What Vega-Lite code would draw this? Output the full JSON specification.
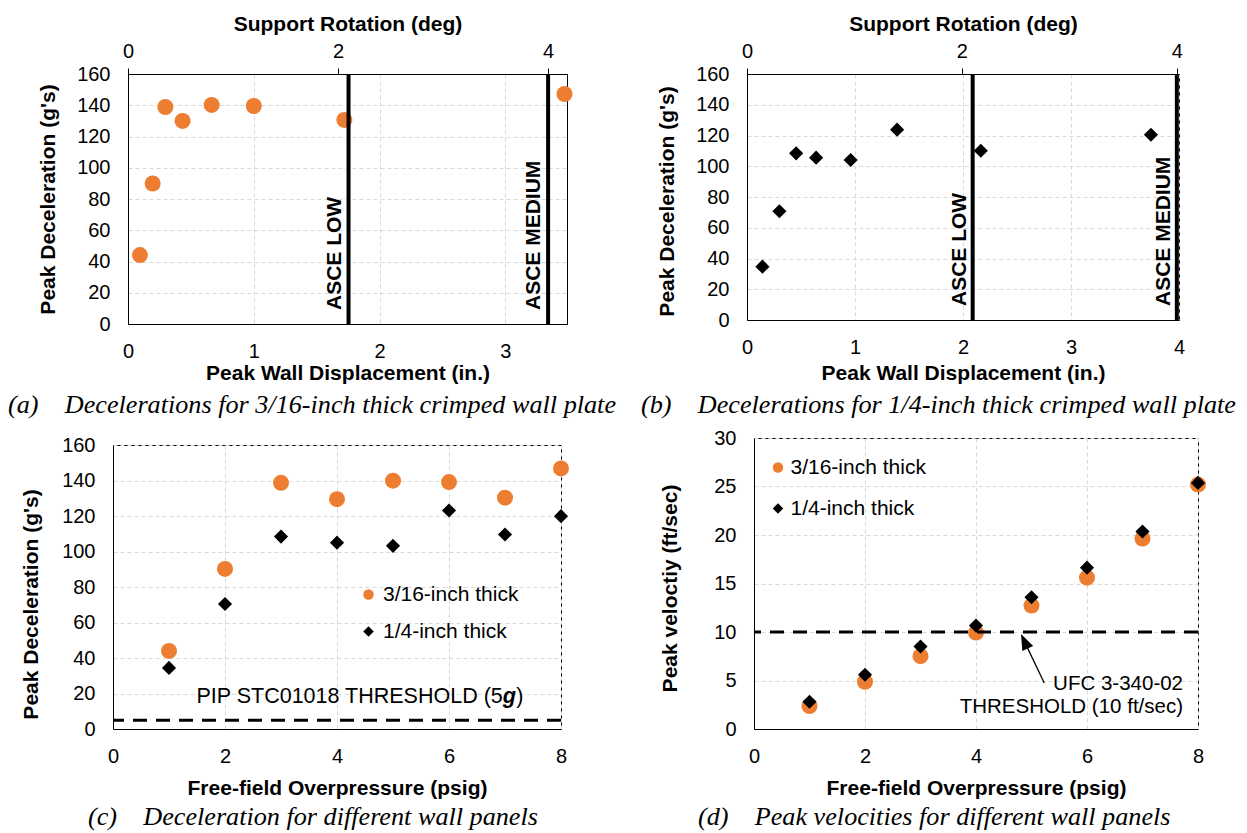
{
  "$schema": "https://vega.github.io/schema/vega-lite/v6.json",
  "background": "white",
  "padding": {"left": 6, "top": 12, "right": 3, "bottom": 4},
  "config": {
    "view": {"stroke": "black", "strokeWidth": 1},
    "axis": {"labelFont": "Liberation Sans", "labelFontSize": 20, "labelColor": "black", "titleFont": "Liberation Sans", "titleFontSize": 21, "titleFontWeight": "bold", "titleColor": "black", "domainColor": "black", "domainWidth": 1, "gridColor": "#d9d9d9", "gridDash": [4, 3], "gridWidth": 1, "ticks": false, "tickSize": 0, "labelFlush": false, "labelOverlap": false, "tickCount": 100, "format": "d"},
    "title": {"font": "Liberation Serif", "fontSize": 26.2, "fontStyle": "italic", "fontWeight": "normal", "color": "black", "orient": "bottom", "anchor": "start", "frame": "group"},
    "legend": {"labelFont": "Liberation Sans", "labelFontSize": 21, "labelColor": "black", "symbolSize": 110, "padding": 0, "titlePadding": 0, "symbolStrokeWidth": 0},
    "text": {"font": "Liberation Sans", "fontSize": 21, "color": "black"}
  },
  "datasets": {
    "a_pts": [
      {"disp": 0.095, "decel": 44.1}, {"disp": 0.196, "decel": 89.9}, {"disp": 0.297, "decel": 138.9}, {"disp": 0.434, "decel": 130.0},
      {"disp": 0.665, "decel": 140.2}, {"disp": 1.0, "decel": 139.5}, {"disp": 1.72, "decel": 130.6}, {"disp": 3.47, "decel": 147.2}
    ],
    "b_pts": [
      {"disp": 0.143, "decel": 34.7}, {"disp": 0.30, "decel": 70.7}, {"disp": 0.455, "decel": 108.4}, {"disp": 0.64, "decel": 105.6},
      {"disp": 0.96, "decel": 104.1}, {"disp": 1.39, "decel": 123.8}, {"disp": 2.165, "decel": 110.1}, {"disp": 3.74, "decel": 120.5}
    ],
    "asce": [
      {"rot": 2.1, "label": "ASCE LOW"}, {"rot": 4.0, "label": "ASCE MEDIUM"}
    ],
    "c_pts": [
      {"psig": 1, "decel": 44.0, "series": "3/16-inch thick"}, {"psig": 2, "decel": 90.2, "series": "3/16-inch thick"},
      {"psig": 3, "decel": 138.7, "series": "3/16-inch thick"}, {"psig": 4, "decel": 129.5, "series": "3/16-inch thick"},
      {"psig": 5, "decel": 139.9, "series": "3/16-inch thick"}, {"psig": 6, "decel": 139.1, "series": "3/16-inch thick"},
      {"psig": 7, "decel": 130.3, "series": "3/16-inch thick"}, {"psig": 8, "decel": 146.8, "series": "3/16-inch thick"},
      {"psig": 1, "decel": 34.4, "series": "1/4-inch thick"}, {"psig": 2, "decel": 70.4, "series": "1/4-inch thick"},
      {"psig": 3, "decel": 108.4, "series": "1/4-inch thick"}, {"psig": 4, "decel": 105.0, "series": "1/4-inch thick"},
      {"psig": 5, "decel": 103.2, "series": "1/4-inch thick"}, {"psig": 6, "decel": 123.1, "series": "1/4-inch thick"},
      {"psig": 7, "decel": 109.6, "series": "1/4-inch thick"}, {"psig": 8, "decel": 119.9, "series": "1/4-inch thick"}
    ],
    "d_pts": [
      {"psig": 1, "vel": 2.37, "series": "3/16-inch thick"}, {"psig": 2, "vel": 4.87, "series": "3/16-inch thick"},
      {"psig": 3, "vel": 7.51, "series": "3/16-inch thick"}, {"psig": 4, "vel": 9.94, "series": "3/16-inch thick"},
      {"psig": 5, "vel": 12.72, "series": "3/16-inch thick"}, {"psig": 6, "vel": 15.6, "series": "3/16-inch thick"},
      {"psig": 7, "vel": 19.64, "series": "3/16-inch thick"}, {"psig": 8, "vel": 25.2, "series": "3/16-inch thick"},
      {"psig": 1, "vel": 2.81, "series": "1/4-inch thick"}, {"psig": 2, "vel": 5.59, "series": "1/4-inch thick"},
      {"psig": 3, "vel": 8.5, "series": "1/4-inch thick"}, {"psig": 4, "vel": 10.66, "series": "1/4-inch thick"},
      {"psig": 5, "vel": 13.58, "series": "1/4-inch thick"}, {"psig": 6, "vel": 16.63, "series": "1/4-inch thick"},
      {"psig": 7, "vel": 20.36, "series": "1/4-inch thick"}, {"psig": 8, "vel": 25.37, "series": "1/4-inch thick"}
    ],
    "spc": [{"s": 0}]
  },
  "vconcat": [
    {
      "concat": [
        {
          "concat": [
            {"width": 1, "height": 1, "view": {"stroke": null}, "data": {"name": "spc"}, "mark": {"type": "point", "opacity": 0, "size": 0}},
            {
              "width": 439, "height": 250,
              "title": {"text": "(a)\u00a0\u00a0\u00a0\u00a0Decelerations for 3/16-inch thick crimped wall plate", "dx": -120, "offset": 9},
              "layer": [
                {
                  "data": {"name": "a_pts"},
                  "mark": {"type": "point", "shape": "circle", "filled": true, "color": "#ED7D31", "opacity": 1, "size": 256},
                  "encoding": {
                    "x": {"field": "disp", "type": "quantitative", "scale": {"domain": [0, 3.49], "nice": false, "zero": false},
                          "axis": {"orient": "bottom", "values": [0, 1, 2, 3], "title": "Peak Wall Displacement (in.)", "grid": true, "labelPadding": 17, "titlePadding": 1}},
                    "y": {"field": "decel", "type": "quantitative", "scale": {"domain": [0, 160], "nice": false},
                          "axis": {"values": [0, 20, 40, 60, 80, 100, 120, 140, 160], "title": "Peak Deceleration (g's)", "grid": true, "labelPadding": 18, "titlePadding": 18}}
                  }
                },
                {
                  "data": {"name": "asce"},
                  "layer": [
                    {
                      "mark": {"type": "rule", "color": "black", "strokeWidth": 4},
                      "encoding": {
                        "x": {"field": "rot", "type": "quantitative", "scale": {"domain": [0, 4.18], "nice": false, "zero": false},
                              "axis": {"orient": "top", "values": [0, 2, 4], "title": "Support Rotation (deg)", "grid": false, "ticks": true, "tickSize": 6, "tickColor": "black", "labelPadding": 7, "titlePadding": 7}}
                      }
                    },
                    {
                      "mark": {"type": "text", "angle": 270, "align": "left", "baseline": "alphabetic", "dx": 14, "dy": -8, "fontWeight": "bold", "fontSize": 21},
                      "encoding": {
                        "x": {"field": "rot", "type": "quantitative"},
                        "y": {"datum": 0},
                        "text": {"field": "label"}
                      }
                    }
                  ]
                }
              ],
              "resolve": {"scale": {"x": "independent"}}
            }
          ],
          "columns": 2,
          "align": "none",
          "spacing": 0
        },
        {
          "width": 432, "height": 246,
          "title": {"text": "(b)\u00a0\u00a0\u00a0\u00a0Decelerations for 1/4-inch thick crimped wall plate", "dx": -106, "offset": 9},
          "layer": [
            {
              "data": {"name": "b_pts"},
              "mark": {"type": "point", "shape": "diamond", "filled": true, "color": "black", "opacity": 1, "size": 200},
              "encoding": {
                "x": {"field": "disp", "type": "quantitative", "scale": {"domain": [0, 4], "nice": false, "zero": false},
                      "axis": {"orient": "bottom", "values": [0, 1, 2, 3, 4], "title": "Peak Wall Displacement (in.)", "grid": true, "labelPadding": 17, "titlePadding": 5}},
                "y": {"field": "decel", "type": "quantitative", "scale": {"domain": [0, 160], "nice": false},
                      "axis": {"values": [0, 20, 40, 60, 80, 100, 120, 140, 160], "title": "Peak Deceleration (g's)", "titleY": 127, "grid": true, "labelPadding": 18, "titlePadding": 18}}
              }
            },
            {
              "data": {"name": "asce"},
              "layer": [
                {
                  "mark": {"type": "rule", "color": "black", "strokeWidth": 4},
                  "encoding": {
                    "x": {"field": "rot", "type": "quantitative", "scale": {"domain": [0, 4.02], "nice": false, "zero": false},
                          "axis": {"orient": "top", "values": [0, 2, 4], "title": "Support Rotation (deg)", "grid": false, "ticks": true, "tickSize": 6, "tickColor": "black", "labelPadding": 7, "titlePadding": 7}}
                  }
                },
                {
                  "mark": {"type": "text", "angle": 270, "align": "left", "baseline": "alphabetic", "dx": 14, "dy": -7, "fontWeight": "bold", "fontSize": 21},
                  "encoding": {
                    "x": {"field": "rot", "type": "quantitative"},
                    "y": {"datum": 0},
                    "text": {"field": "label"}
                  }
                }
              ]
            }
          ],
          "resolve": {"scale": {"x": "independent"}}
        }
      ],
      "columns": 2,
      "align": "none",
      "spacing": 23
    },
    {
      "concat": [
        {
          "concat": [
            {"width": 1, "height": 1, "view": {"stroke": null}, "data": {"name": "spc"}, "mark": {"type": "point", "opacity": 0, "size": 0}},
            {
              "concat": [
                {"width": 1, "height": 1, "view": {"stroke": null}, "data": {"name": "spc"}, "mark": {"type": "point", "opacity": 0, "size": 0}},
                {
                  "width": 448, "height": 284,
                  "title": {"text": "(c)\u00a0\u00a0\u00a0\u00a0Deceleration for different wall panels", "dx": -25, "offset": 6},
                  "layer": [
                    {
                      "data": {"name": "c_pts"},
                      "transform": [{"filter": "datum.series == '3/16-inch thick'"}],
                      "mark": {"type": "point", "filled": true, "opacity": 1, "size": 256},
                      "encoding": {
                        "x": {"field": "psig", "type": "quantitative", "scale": {"domain": [0, 8], "nice": false},
                              "axis": {"values": [0, 2, 4, 6, 8], "title": "Free-field Overpressure (psig)", "grid": true, "labelPadding": 17, "titlePadding": 11}},
                        "y": {"field": "decel", "type": "quantitative", "scale": {"domain": [0, 160], "nice": false},
                              "axis": {"values": [0, 20, 40, 60, 80, 100, 120, 140, 160], "title": "Peak Deceleration (g's)", "titleY": 159, "grid": true, "labelPadding": 18, "titlePadding": 20}},
                        "color": {"field": "series", "type": "nominal", "scale": {"domain": ["3/16-inch thick", "1/4-inch thick"], "range": ["#ED7D31", "#000000"]},
                                  "legend": {"orient": "none", "legendX": 245, "legendY": 139, "title": null, "rowPadding": 15, "labelOffset": 4}},
                        "shape": {"field": "series", "type": "nominal", "scale": {"domain": ["3/16-inch thick", "1/4-inch thick"], "range": ["circle", "diamond"]},
                                  "legend": {"orient": "none", "legendX": 245, "legendY": 139, "title": null, "rowPadding": 15, "labelOffset": 4}}
                      }
                    },
                    {
                      "data": {"name": "c_pts"},
                      "transform": [{"filter": "datum.series == '1/4-inch thick'"}],
                      "mark": {"type": "point", "filled": true, "opacity": 1, "size": 200},
                      "encoding": {
                        "x": {"field": "psig", "type": "quantitative"},
                        "y": {"field": "decel", "type": "quantitative"},
                        "color": {"field": "series", "type": "nominal"},
                        "shape": {"field": "series", "type": "nominal"}
                      }
                    },
                    {
                      "data": {"values": [{"thr": 5}]},
                      "mark": {"type": "rule", "color": "black", "strokeWidth": 3, "strokeDash": [14, 9]},
                      "encoding": {"y": {"field": "thr", "type": "quantitative"}}
                    },
                    {
                      "data": {"values": [{"x": 6.96, "y": 18, "t": "PIP STC01018 THRESHOLD (5"}]},
                      "mark": {"type": "text", "align": "right", "baseline": "middle", "fontSize": 21.5},
                      "encoding": {"x": {"field": "x", "type": "quantitative"}, "y": {"field": "y", "type": "quantitative"}, "text": {"field": "t"}}
                    },
                    {
                      "data": {"values": [{"x": 6.96, "y": 18, "t": "g"}]},
                      "mark": {"type": "text", "align": "left", "baseline": "middle", "fontSize": 21.5, "fontWeight": "bold", "fontStyle": "italic"},
                      "encoding": {"x": {"field": "x", "type": "quantitative"}, "y": {"field": "y", "type": "quantitative"}, "text": {"field": "t"}}
                    },
                    {
                      "data": {"values": [{"x": 7.2, "y": 18, "t": ")"}]},
                      "mark": {"type": "text", "align": "left", "baseline": "middle", "fontSize": 21.5},
                      "encoding": {"x": {"field": "x", "type": "quantitative"}, "y": {"field": "y", "type": "quantitative"}, "text": {"field": "t"}}
                    }
                  ]
                }
              ],
              "columns": 1,
              "align": "none",
              "spacing": 7,
              "resolve": {"scale": {"color": "independent", "shape": "independent"}, "legend": {"color": "independent", "shape": "independent"}}
            }
          ],
          "columns": 2,
          "align": "none",
          "spacing": 13,
          "resolve": {"scale": {"color": "independent", "shape": "independent"}, "legend": {"color": "independent", "shape": "independent"}}
        },
        {
          "concat": [
            {"width": 1, "height": 1, "view": {"stroke": null}, "data": {"name": "spc"}, "mark": {"type": "point", "opacity": 0, "size": 0}},
            {
              "width": 444, "height": 291,
              "title": {"text": "(d)\u00a0\u00a0\u00a0\u00a0Peak velocities for different wall panels", "dx": -56, "offset": 6},
              "layer": [
                {
                  "data": {"name": "d_pts"},
                  "transform": [{"filter": "datum.series == '3/16-inch thick'"}],
                  "mark": {"type": "point", "filled": true, "opacity": 1, "size": 256},
                  "encoding": {
                    "x": {"field": "psig", "type": "quantitative", "scale": {"domain": [0, 8], "nice": false},
                          "axis": {"values": [0, 2, 4, 6, 8], "title": "Free-field Overpressure (psig)", "grid": true, "labelPadding": 17, "titlePadding": 11}},
                    "y": {"field": "vel", "type": "quantitative", "scale": {"domain": [0, 30], "nice": false},
                          "axis": {"values": [0, 5, 10, 15, 20, 25, 30], "title": "Peak veloctiy (ft/sec)", "titleY": 150, "grid": true, "labelPadding": 18, "titlePadding": 33}},
                    "color": {"field": "series", "type": "nominal", "scale": {"domain": ["3/16-inch thick", "1/4-inch thick"], "range": ["#ED7D31", "#000000"]},
                              "legend": {"orient": "none", "legendX": 13.5, "legendY": 19, "title": null, "rowPadding": 19, "labelOffset": 2}},
                    "shape": {"field": "series", "type": "nominal", "scale": {"domain": ["3/16-inch thick", "1/4-inch thick"], "range": ["circle", "diamond"]},
                              "legend": {"orient": "none", "legendX": 13.5, "legendY": 19, "title": null, "rowPadding": 19, "labelOffset": 2}}
                  }
                },
                {
                  "data": {"name": "d_pts"},
                  "transform": [{"filter": "datum.series == '1/4-inch thick'"}],
                  "mark": {"type": "point", "filled": true, "opacity": 1, "size": 200},
                  "encoding": {
                    "x": {"field": "psig", "type": "quantitative"},
                    "y": {"field": "vel", "type": "quantitative"},
                    "color": {"field": "series", "type": "nominal"},
                    "shape": {"field": "series", "type": "nominal"}
                  }
                },
                {
                  "data": {"values": [{"thr": 10}]},
                  "mark": {"type": "rule", "color": "black", "strokeWidth": 3, "strokeDash": [14, 9]},
                  "encoding": {"y": {"field": "thr", "type": "quantitative"}}
                },
                {
                  "data": {"values": [{"x": 7.73, "y": 4.64, "t": "UFC 3-340-02"}, {"x": 7.73, "y": 2.27, "t": "THRESHOLD (10 ft/sec)"}]},
                  "mark": {"type": "text", "align": "right", "baseline": "middle", "fontSize": 20.5},
                  "encoding": {"x": {"field": "x", "type": "quantitative"}, "y": {"field": "y", "type": "quantitative"}, "text": {"field": "t"}}
                },
                {
                  "data": {"values": [{"x": 5.23, "y": 4.74, "x2": 4.887, "y2": 8.856}]},
                  "mark": {"type": "rule", "color": "black", "strokeWidth": 1.3},
                  "encoding": {"x": {"field": "x", "type": "quantitative"}, "y": {"field": "y", "type": "quantitative"}, "x2": {"field": "x2"}, "y2": {"field": "y2"}}
                },
                {
                  "data": {"values": [{"x": 4.887, "y": 8.856}]},
                  "mark": {"type": "point", "shape": "M0,-1L0.6,0.6L-0.6,0.6Z", "size": 400, "angle": 335, "filled": true, "color": "black", "opacity": 1},
                  "encoding": {"x": {"field": "x", "type": "quantitative"}, "y": {"field": "y", "type": "quantitative"}}
                }
              ]
            }
          ],
          "columns": 1,
          "align": "none",
          "spacing": 0,
          "resolve": {"scale": {"color": "independent", "shape": "independent"}, "legend": {"color": "independent", "shape": "independent"}}
        }
      ],
      "columns": 2,
      "align": "none",
      "spacing": 89,
      "resolve": {"scale": {"color": "independent", "shape": "independent"}, "legend": {"color": "independent", "shape": "independent"}}
    }
  ],
  "spacing": 7
}
